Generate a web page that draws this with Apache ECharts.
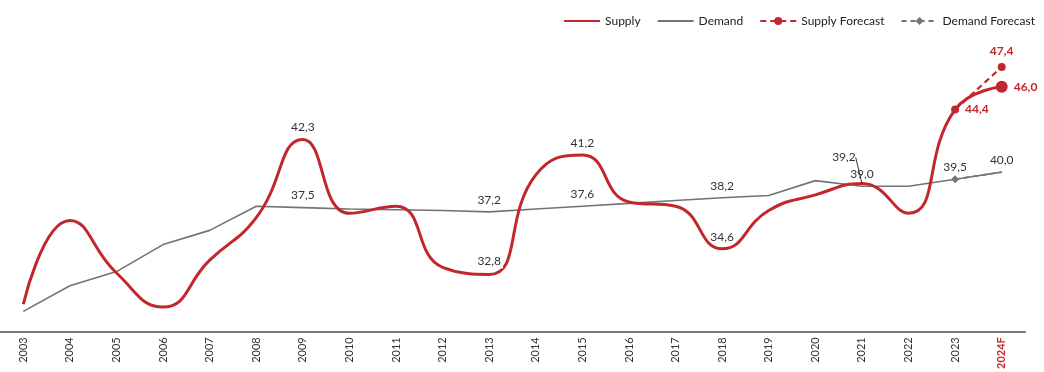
<!DOCTYPE html>
<html><head><meta charset="utf-8">
<script src="https://cdn.jsdelivr.net/npm/echarts@6/dist/echarts.min.js"></script>
<style>html,body{margin:0;padding:0;background:#fff}#c{width:1044px;height:372px}</style>
</head><body><div id="c"></div>
<script>
const years = ['2003','2004','2005','2006','2007','2008','2009','2010','2011','2012','2013','2014','2015','2016','2017','2018','2019','2020','2021','2022','2023','2024F'];
const supply = [30.7,36.6,32.9,30.5,33.8,36.8,42.3,37.1,37.6,33.3,32.8,39.8,41.2,37.9,37.6,34.6,37.3,38.4,39.2,37.1,44.4,46.0];
const demand = [30.2,32.0,33.0,34.9,35.9,37.6,37.5,37.4,37.35,37.3,37.2,37.4,37.6,37.8,38.0,38.2,38.35,39.4,39.0,39.0,39.5,40.0];
const supplyForecast = [null,null,null,null,null,null,null,null,null,null,null,null,null,null,null,null,null,null,null,null,44.4,47.4];
const demandForecast = [null,null,null,null,null,null,null,null,null,null,null,null,null,null,null,null,null,null,null,null,39.5,40.0];
const supplyLabelYears = ['2009','2013','2015','2018','2021','2023','2024F'];
const demandLabelYears = ['2009','2013','2015','2018','2021','2023','2024F'];

const RED = '#c1272d';
const GREY = '#737373';
const fmt = v => Number(v).toFixed(1).replace('.', ',');
const FONT = 'Lato';

const supplyData = supply.map((v, i) => {
  const y = years[i];
  const item = { value: v };
  if (supplyLabelYears.includes(y)) {
    const isF = (y === '2023' || y === '2024F');
    item.symbol = 'circle'; item.symbolSize = 0.01;
    item.label = { show: true, position: isF ? 'right' : 'top',
      color: isF ? RED : '#333', fontWeight: isF ? 'bold' : 'normal', fontSize: 12, fontFamily: FONT,
      formatter: p => fmt(p.value), distance: 6 };
    if (y === '2021') {
      item.labelLine = { show: true, lineStyle: { color: '#333', width: 1 } };
    }
    if (y === '2013') {
      item.label.backgroundColor = '#fff';
      item.label.padding = [1, 2];
    }
  }
  if (y === '2023') { item.symbol = 'circle'; item.symbolSize = 8; }
  if (y === '2024F') { item.symbol = 'circle'; item.symbolSize = 12; }
  return item;
});
const demandData = demand.map((v, i) => {
  const y = years[i];
  const item = { value: v };
  if (demandLabelYears.includes(y)) {
    item.symbol = 'circle'; item.symbolSize = 0.01;
    item.label = { show: true, position: 'top', color: '#333', fontSize: 12, fontFamily: FONT,
      formatter: p => fmt(p.value), distance: 6 };
  }
  return item;
});
const sfData = supplyForecast.map((v, i) => {
  if (v == null) return null;
  const item = { value: v };
  if (years[i] === '2024F') {
    item.symbol = 'circle'; item.symbolSize = 8;
    item.label = { show: true, position: 'top', color: RED, fontWeight: 'bold', fontSize: 12, fontFamily: FONT,
      formatter: p => fmt(p.value), distance: 6 };
  } else { item.symbol = 'none'; }
  return item;
});
const dfData = demandForecast.map((v, i) => {
  if (v == null) return null;
  const item = { value: v };
  if (years[i] === '2023') { item.symbol = 'diamond'; item.symbolSize = 8; }
  else item.symbol = 'none';
  return item;
});

const chart = echarts.init(document.getElementById('c'), null, { renderer: 'canvas' });
chart.setOption({
  animation: false,
  textStyle: { fontFamily: FONT },
  grid: { left: 0, right: 19, top: 30, bottom: 37 },
  legend: {
    right: 4, top: 10, itemWidth: 36, itemHeight: 10, itemGap: 16,
    textStyle: { fontSize: 12, color: '#222', fontFamily: FONT },
    data: [
      { name: 'Supply', itemStyle: { opacity: 0 } },
      { name: 'Demand', itemStyle: { opacity: 0 } },
      { name: 'Supply Forecast' },
      { name: 'Demand Forecast' }
    ]
  },
  xAxis: {
    type: 'category', data: years, boundaryGap: true,
    axisLine: { lineStyle: { color: '#7a7a7a', width: 2 } },
    axisTick: { show: false },
    axisLabel: { rotate: 90, fontSize: 11, margin: 6, fontFamily: FONT, color: '#333',
      formatter: v => v === '2024F' ? '{f|' + v + '}' : v,
      rich: { f: { color: RED, fontWeight: 'bold', fontSize: 11, fontFamily: FONT } }
    }
  },
  yAxis: { type: 'value', min: 28.8, max: 50, show: false, splitLine: { show: false } },
  series: [
    { name: 'Demand', type: 'line', data: demandData, symbol: 'none', z: 2,
      lineStyle: { color: GREY, width: 1.6 }, itemStyle: { color: GREY } },
    { name: 'Demand Forecast', type: 'line', data: dfData, symbol: 'diamond', symbolSize: 8, z: 3,
      lineStyle: { color: GREY, width: 1.6, type: [5, 4] }, itemStyle: { color: GREY } },
    { name: 'Supply', type: 'line', data: supplyData, symbol: 'none', smooth: 0.5, z: 5,
      lineStyle: { color: RED, width: 3 }, itemStyle: { color: RED },
      labelLayout: (p) => p.dataIndex === 18 ? { dx: -18, dy: -14 } : {} },
    { name: 'Supply Forecast', type: 'line', data: sfData, symbol: 'circle', symbolSize: 8, z: 4,
      lineStyle: { color: RED, width: 2.2, type: [6, 4] }, itemStyle: { color: RED } }
  ]
});
</script>
</body></html>
